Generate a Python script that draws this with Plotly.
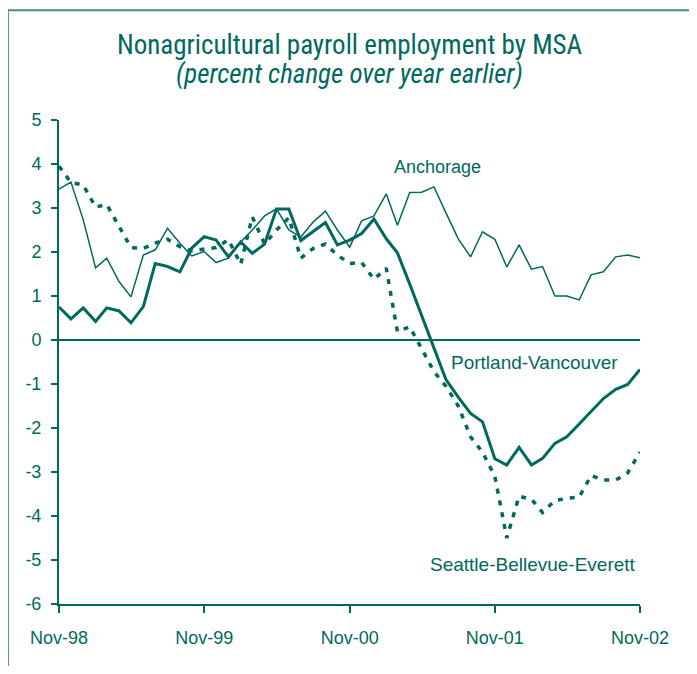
import plotly.graph_objects as go
import pandas as pd

months = pd.date_range("1998-11-01", periods=49, freq="MS")

anchorage = [3.43, 3.59, 2.73, 1.64, 1.86, 1.33, 0.98, 1.93, 2.05, 2.54,
             2.20, 1.91, 2.01, 1.76, 1.86, 2.23, 2.50, 2.82, 2.98, 2.50,
             2.34, 2.68, 2.93, 2.50, 2.11, 2.71, 2.82, 3.32, 2.61, 3.35,
             3.36, 3.48, 2.89, 2.30, 1.89, 2.46, 2.29, 1.66, 2.16, 1.61,
             1.67, 1.00, 1.00, 0.91, 1.48, 1.55, 1.89, 1.93, 1.87]

portland = [0.75, 0.48, 0.73, 0.42, 0.73, 0.66, 0.39, 0.76, 1.74, 1.67,
            1.55, 2.09, 2.35, 2.27, 1.89, 2.23, 1.97, 2.18, 2.98, 2.98,
            2.26, 2.46, 2.67, 2.16, 2.27, 2.42, 2.75, 2.30, 1.98, 1.27,
            0.56, -0.15, -0.90, -1.30, -1.67, -1.86, -2.70, -2.84, -2.44, -2.84,
            -2.69, -2.35, -2.20, -1.91, -1.63, -1.33, -1.12, -1.01, -0.67]

seattle = [3.95, 3.58, 3.52, 3.02, 3.08, 2.60, 2.10, 2.08, 2.20, 2.29,
           2.12, 2.03, 2.07, 2.10, 2.28, 1.72, 2.80, 2.18, 2.50, 2.78,
           1.86, 2.08, 2.18, 1.93, 1.74, 1.76, 1.38, 1.63, 0.19, 0.30,
           -0.20, -0.72, -1.05, -1.50, -2.20, -2.55, -3.10, -4.50, -3.55, -3.62,
           -3.92, -3.65, -3.60, -3.57, -3.08, -3.18, -3.18, -3.02, -2.55]

tick_dates = ["1998-11-01", "1999-11-01", "2000-11-01", "2001-11-01", "2002-11-01"]
tick_labels = ["Nov-98", "Nov-99", "Nov-00", "Nov-01", "Nov-02"]
y_ticks = list(range(-6, 6))
y_tick_labels = [str(v) for v in y_ticks]

teal = "#00695f"
narrow = "Liberation Sans Narrow, Roboto Condensed, Arial Narrow, sans-serif"
regular = "Liberation Sans, Arial, Roboto, sans-serif"

fig = go.Figure()
fig.add_trace(go.Scatter(x=months, y=anchorage, mode="lines", name="Anchorage",
                         line=dict(color=teal, width=1.5)))
fig.add_trace(go.Scatter(x=months, y=seattle, mode="lines", name="Seattle-Bellevue-Everett",
                         line=dict(color=teal, width=3.5, dash="5px,7px")))
fig.add_trace(go.Scatter(x=months, y=portland, mode="lines", name="Portland-Vancouver",
                         line=dict(color=teal, width=3)))

fig.update_layout(
    width=681, height=658,
    margin=dict(l=51, r=49, t=112, b=62),
    paper_bgcolor="white", plot_bgcolor="white",
    showlegend=False,
    font=dict(family=regular, color=teal, size=16),
)

fig.update_xaxes(
    range=[months[0], months[-1]],
    tickmode="array", tickvals=tick_dates, ticktext=tick_labels,
    showgrid=False, zeroline=False,
    showline=True, linecolor=teal, linewidth=2,
    ticks="outside", ticklen=7, tickwidth=2, tickcolor=teal,
    tickfont=dict(size=18, color=teal, family=regular),
    ticklabelstandoff=9,
)
fig.update_yaxes(
    range=[-6, 5],
    tickmode="array", tickvals=y_ticks, ticktext=y_tick_labels,
    showgrid=False,
    zeroline=True, zerolinecolor=teal, zerolinewidth=1.5,
    showline=True, linecolor=teal, linewidth=2,
    ticks="outside", ticklen=6, tickwidth=2, tickcolor=teal,
    tickfont=dict(size=18, color=teal, family=regular),
    ticklabelstandoff=6,
)

fig.add_annotation(xref="paper", yref="paper", x=0.5, y=1.155,
                   text="Nonagricultural payroll employment by MSA", showarrow=False,
                   xanchor="center", yanchor="middle", font=dict(size=27, color=teal, family=narrow))
fig.add_annotation(xref="paper", yref="paper", x=0.5, y=1.095,
                   text="<i>(percent change over year earlier)</i>", showarrow=False,
                   xanchor="center", yanchor="middle", font=dict(size=27, color=teal, family=narrow))

fig.add_annotation(x="2001-02-15", y=3.93, text="Anchorage", showarrow=False,
                   xanchor="left", yanchor="middle", font=dict(size=18, color=teal))
fig.add_annotation(x="2002-09-12", y=-0.52, text="Portland-Vancouver", showarrow=False,
                   xanchor="right", yanchor="middle", font=dict(size=19, color=teal))
fig.add_annotation(x="2002-10-26", y=-5.11, text="Seattle-Bellevue-Everett", showarrow=False,
                   xanchor="right", yanchor="middle", font=dict(size=19, color=teal))

frame = dict(color="#3d8c84", width=2)
fig.add_shape(type="line", xref="paper", yref="paper",
              x0=-0.088, x1=-0.088, y0=-0.2, y1=1.227, line=frame, layer="below")
fig.add_shape(type="line", xref="paper", yref="paper",
              x0=-0.088, x1=1.2, y0=1.227, y1=1.227, line=frame, layer="below")

fig.write_html("out.html")
